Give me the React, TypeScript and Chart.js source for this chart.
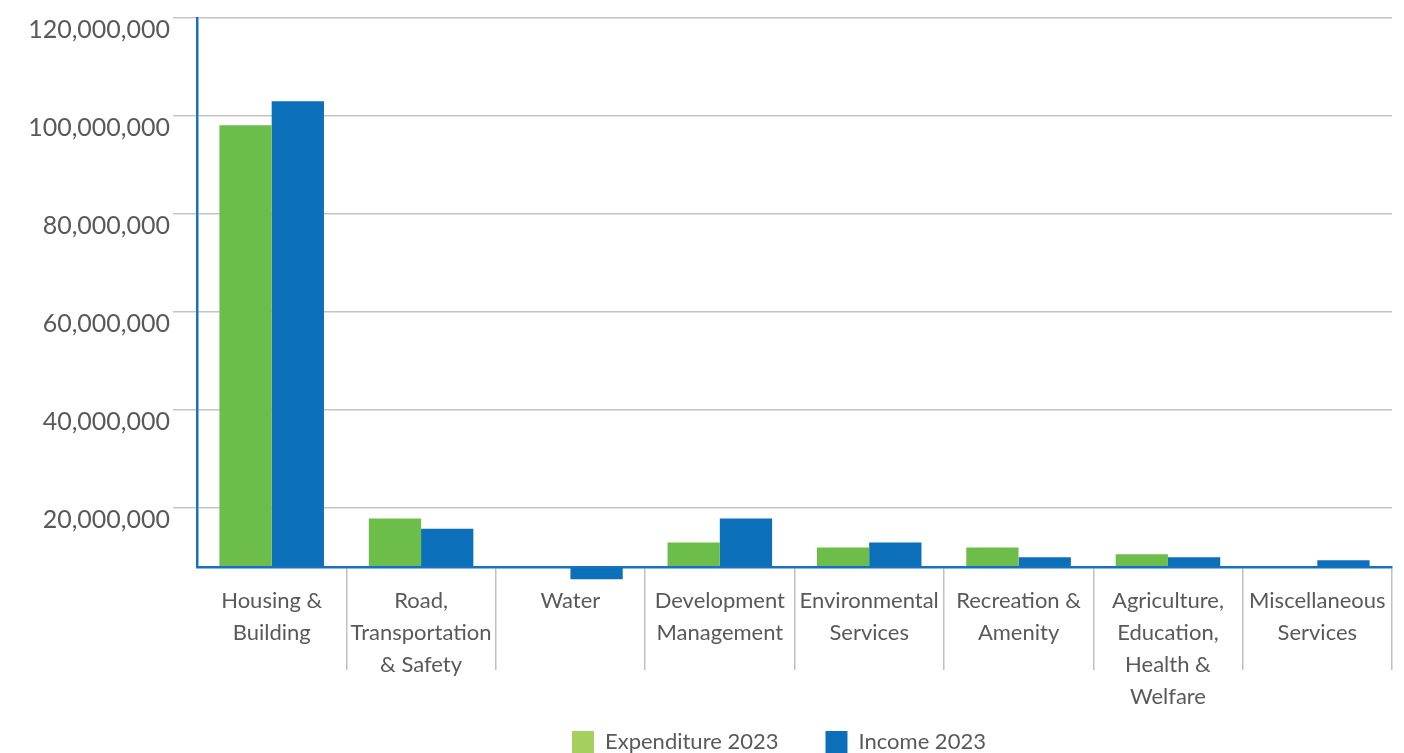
import React, { useEffect, useRef } from "react";
import { Chart, registerables } from "chart.js";

Chart.register(...registerables);

// ---- data ----
const categories: string[][] = [
  ["Housing &", "Building"],
  ["Road,", "Transportation", "& Safety"],
  ["Water"],
  ["Development", "Management"],
  ["Environmental", "Services"],
  ["Recreation &", "Amenity"],
  ["Agriculture,", "Education,", "Health &", "Welfare"],
  ["Miscellaneous", "Services"],
];
const seriesNames = ["Expenditure 2023", "Income 2023"];
const expenditure2023: (number | null)[] = [
  98100000, 17900000, null, 13000000, 12000000, 12000000, 10600000, null,
];
const income2023: (number | null)[] = [
  103000000, 15800000, 5500000, 17900000, 13000000, 10000000, 10000000, 9400000,
];
const yTickValues = [20000000, 40000000, 60000000, 80000000, 100000000, 120000000];
const axisCrossing = 8000000;
const axisMax = 120000000;

// ---- styles ----
const GREEN = "#6cbd4a";
const GREEN_LEGEND = "#a6d05e";
const BLUE = "#0b6fba";
const AXIS_BLUE = "#1672c0";
const GRID = "#c4c4c4";
const TEXT = "#595959";
const FONT = "Lato";
const LEGEND_PAD = 47;
const X_AXIS_HEIGHT = 146;
const CANVAS_W = 1404;
const CANVAS_H = 567 + X_AXIS_HEIGHT + 22 + LEGEND_PAD + 10;

const legendPlace = {
  id: "legendPlace",
  afterLayout(chart: any) {
    const lg = chart.legend;
    if (!lg) return;
    const w = lg.right - lg.left;
    const h = lg.bottom - lg.top;
    lg.left = 572 - LEGEND_PAD;
    lg.right = lg.left + w;
    lg.top = chart.chartArea.bottom + 164 - LEGEND_PAD;
    lg.bottom = lg.top + h;
  },
};

export default function App() {
  const ref = useRef<HTMLCanvasElement | null>(null);

  useEffect(() => {
    if (!ref.current) return;
    const chart = new Chart(ref.current, {
      type: "bar",
      data: {
        labels: categories as any,
        datasets: [
          {
            label: seriesNames[0],
            data: expenditure2023 as any,
            backgroundColor: GREEN,
            borderWidth: 0,
            base: axisCrossing,
            categoryPercentage: 0.7,
            barPercentage: 1,
            clip: false as any,
          },
          {
            label: seriesNames[1],
            data: income2023 as any,
            backgroundColor: BLUE,
            borderWidth: 0,
            base: axisCrossing,
            categoryPercentage: 0.7,
            barPercentage: 1,
            clip: false as any,
          },
        ],
      },
      options: {
        animation: false,
        responsive: false,
        maintainAspectRatio: false,
        layout: { padding: { top: 16, right: 12, left: 0, bottom: 0 } },
        scales: {
          x: {
            offset: true,
            grid: {
              offset: true,
              drawOnChartArea: false,
              drawTicks: true,
              tickLength: 103,
              lineWidth: 1.5,
              color: (ctx: any) => (ctx.index === 0 ? "rgba(0,0,0,0)" : "#c0c0c0"),
            },
            border: { display: true, color: AXIS_BLUE, width: 2.5, z: 1 },
            ticks: {
              autoSkip: false,
              maxRotation: 0,
              minRotation: 0,
              padding: -85,
              color: TEXT,
              font: { family: FONT, size: 22, lineHeight: 32 / 22 },
            },
            afterFit: (s: any) => {
              s.height = X_AXIS_HEIGHT;
            },
          },
          y: {
            min: axisCrossing,
            max: axisMax,
            afterBuildTicks: (s: any) => {
              s.ticks = yTickValues.map((v) => ({ value: v }));
            },
            grid: {
              color: GRID,
              lineWidth: 1.5,
              drawTicks: true,
              tickLength: 24,
            },
            border: { display: true, color: AXIS_BLUE, width: 2.5 },
            ticks: {
              padding: 3,
              labelOffset: 11.5,
              color: TEXT,
              font: { family: FONT, size: 25 },
              callback: (v: any) => Number(v).toLocaleString("en-US"),
            },
            afterFit: (s: any) => {
              s.width = 197;
            },
          },
        },
        plugins: {
          tooltip: { enabled: false },
          legend: {
            position: "bottom",
            align: "start",
            labels: {
              boxWidth: 22,
              boxHeight: 22,
              padding: LEGEND_PAD,
              color: TEXT,
              font: { family: FONT, size: 22 },
              generateLabels: (chart: any) => {
                const items = Chart.defaults.plugins.legend.labels.generateLabels(chart);
                return items.map((it: any, i: number) => ({
                  ...it,
                  fillStyle: i === 0 ? GREEN_LEGEND : BLUE,
                  strokeStyle: i === 0 ? GREEN_LEGEND : BLUE,
                  lineWidth: 0,
                }));
              },
            },
          },
        },
      },
      plugins: [legendPlace],
    });
    return () => chart.destroy();
  }, []);

  return (
    <div style={{ position: "fixed", left: 0, top: 0, width: CANVAS_W, height: CANVAS_H, background: "#fff" }}>
      <canvas
        ref={ref}
        width={CANVAS_W}
        height={CANVAS_H}
        style={{ width: CANVAS_W, height: CANVAS_H, display: "block" }}
      />
    </div>
  );
}
